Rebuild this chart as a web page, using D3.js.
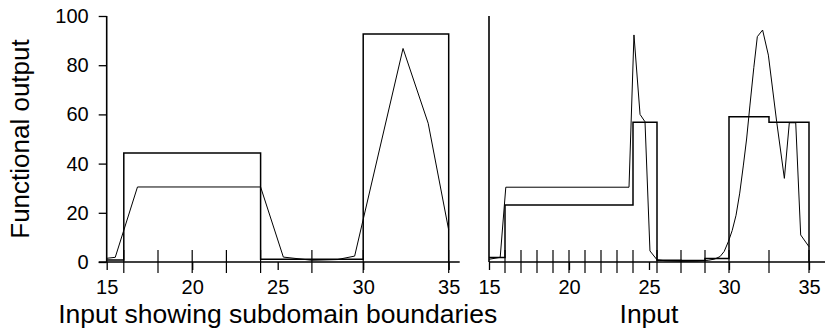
<!DOCTYPE html>
<html>
<head>
<meta charset="utf-8">
<script src="https://cdn.jsdelivr.net/npm/d3@7"></script>
<style>
  html, body { margin: 0; padding: 0; background: #fff; }
  svg { display: block; }
  text { font-family: "Liberation Sans", Arial, Helvetica, sans-serif; fill: #000; }
</style>
</head>
<body>
<svg id="chart" width="825" height="331"></svg>
<script>
// ---- data ----
const xTicks = [15, 20, 25, 30, 35];
const yTicks = [0, 20, 40, 60, 80, 100];

// Left panel: piecewise-constant fit over coarse subdomains
const leftStepBreaks = [15, 16, 24, 30, 35];
const leftStepLevels = [0.8, 44.3, 1.1, 92.7];
// Left panel: sampled function
const leftCurveX = [15, 15.5, 16.8, 24, 25.33, 27, 28.5, 29.5, 32.33, 33.8, 35];
const leftCurveY = [1.5, 1.9, 30.5, 30.5, 2.0, 0.7, 1.0, 2.4, 86.8, 56.4, 13];
const leftRug = [16, 18, 20, 22, 24, 27, 30, 35];

// Right panel: piecewise-constant fit over finer subdomains
const rightStepBreaks = [15, 16, 24, 25.5, 27, 28.5, 30, 32.5, 35];
const rightStepLevels = [1.8, 23.2, 56.8, 0.7, 0.6, 1.4, 59.0, 56.8];
// Right panel: sampled function
const rightCurveX = [15, 15.7, 16.05, 23.75, 24.06, 24.44, 24.75, 25.06, 25.5, 26, 27, 28, 28.7, 29.1,
  29.44, 29.7, 29.96, 30.2, 30.44, 30.67, 30.9, 31.1, 31.31, 31.55, 31.77, 32.1, 32.46, 32.98,
  33.46, 33.77, 34.17, 34.48, 35];
const rightCurveY = [1.1, 1.9, 30.4, 30.4, 92.3, 60, 57, 4.5, 0.9, 0.5, 0.3, 0.4, 0.7, 1.2,
  2.2, 4.3, 8.3, 12.8, 19, 28, 39.4, 50, 63.8, 79, 91.6, 94.3, 84.1, 57,
  34, 56.6, 56.6, 11, 6.2];
const rightRug = [16, 17, 18, 19, 20, 21, 22, 23, 24, 25.5, 27, 28.5, 30, 32.5, 35];

// ---- layout ----
const svg = d3.select("#chart");
const W = 825;
const y = d3.scaleLinear().domain([0, 100]).range([262, 16]);
const xL = d3.scaleLinear().domain([15, 35]).range([106.7, 448.7]);
const xR = d3.scaleLinear().domain([15, 35]).range([489, 809]);

function stepPoints(breaks, levels) {
  const pts = [[breaks[0], levels[0]]];
  for (let i = 0; i < levels.length; i++) {
    pts.push([breaks[i], levels[i]]);
    pts.push([breaks[i + 1], levels[i]]);
  }
  pts.push([breaks[breaks.length - 1], 0]);
  return pts;
}

function drawPanel(x, opts) {
  const g = svg.append("g");
  const [x0, x1] = x.range();

  // zero line
  g.append("line")
    .attr("x1", opts.zeroFrom).attr("x2", opts.zeroTo)
    .attr("y1", y(0)).attr("y2", y(0))
    .attr("stroke", "#000").attr("stroke-width", 1.4);

  // vertical axis line
  g.append("line")
    .attr("x1", x0).attr("x2", x0)
    .attr("y1", y(100)).attr("y2", y(0))
    .attr("stroke", "#000").attr("stroke-width", 1.6);

  // x axis ticks + labels
  const xa = g.append("g").attr("transform", `translate(0,${y(0)})`)
    .call(d3.axisBottom(x).tickValues(xTicks).tickSize(8).tickPadding(17).tickFormat(d3.format("d")));
  xa.select(".domain").remove();
  xa.selectAll(".tick line").attr("stroke", "#000").attr("stroke-width", 1.3);
  xa.selectAll(".tick text").attr("font-size", 20).attr("font-family", "Liberation Sans, Arial, sans-serif")
    .attr("dy", "0.71em").attr("y", 18);

  // subdomain boundary rug
  g.selectAll("line.rug").data(opts.rug).join("line")
    .attr("class", "rug")
    .attr("x1", d => x(d)).attr("x2", d => x(d))
    .attr("y1", y(0) - 12).attr("y2", y(0) + 11)
    .attr("stroke", "#000").attr("stroke-width", 1.2);

  // step fit
  g.append("path")
    .datum(stepPoints(opts.stepBreaks, opts.stepLevels))
    .attr("d", d3.line().x(d => x(d[0])).y(d => y(d[1])))
    .attr("fill", "none").attr("stroke", "#000").attr("stroke-width", 1.5)
    .attr("stroke-linejoin", "miter");

  // sampled curve
  g.append("path")
    .datum(opts.curveX.map((v, i) => [v, opts.curveY[i]]))
    .attr("d", d3.line().x(d => x(d[0])).y(d => y(d[1])))
    .attr("fill", "none").attr("stroke", "#000").attr("stroke-width", 1);

  // axis title
  g.append("text")
    .attr("x", (x0 + x1) / 2).attr("y", 323)
    .attr("text-anchor", "middle").attr("font-size", 26.5)
    .text(opts.title);
  return g;
}

drawPanel(xL, {
  zeroFrom: xL.range()[0] - 8, zeroTo: xL.range()[1] + 11,
  rug: leftRug, stepBreaks: leftStepBreaks, stepLevels: leftStepLevels,
  curveX: leftCurveX, curveY: leftCurveY,
  title: "Input showing subdomain boundaries"
});

drawPanel(xR, {
  zeroFrom: xR.range()[0], zeroTo: W,
  rug: rightRug, stepBreaks: rightStepBreaks, stepLevels: rightStepLevels,
  curveX: rightCurveX, curveY: rightCurveY,
  title: "Input"
});

// y axis ticks and labels (left panel only)
const ya = svg.append("g").attr("transform", `translate(${xL.range()[0]},0)`)
  .call(d3.axisLeft(y).tickValues(yTicks).tickSize(8).tickPadding(10).tickFormat(d3.format("d")));
ya.select(".domain").remove();
ya.selectAll(".tick line").attr("stroke", "#000").attr("stroke-width", 1.3);
ya.selectAll(".tick text").attr("font-size", 20).attr("font-family", "Liberation Sans, Arial, sans-serif");

svg.append("text")
  .attr("transform", `translate(29,${(y(0) + y(100)) / 2}) rotate(-90)`)
  .attr("text-anchor", "middle").attr("font-size", 26)
  .text("Functional output");
</script>
</body>
</html>
